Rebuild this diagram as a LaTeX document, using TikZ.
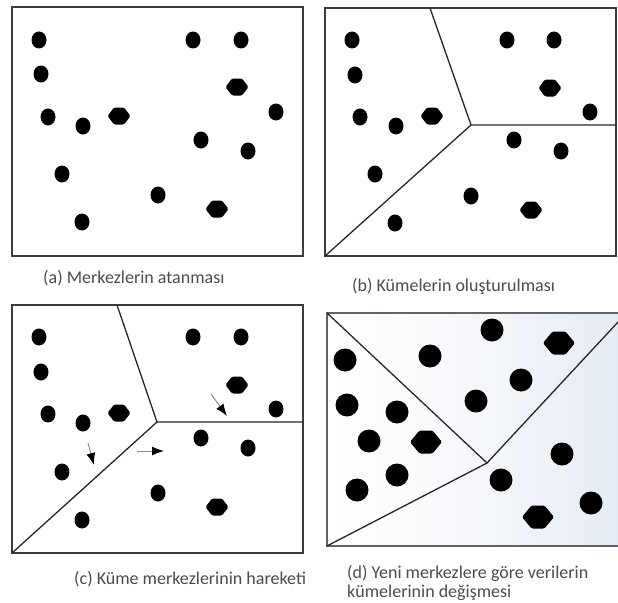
\documentclass[tikz,border=0pt]{standalone}
\usepackage{fontspec}
\setmainfont{Carlito}
\usetikzlibrary{arrows.meta}
\definecolor{framegray}{RGB}{60,60,60}
\definecolor{captiongray}{RGB}{75,75,75}
\definecolor{shadeblue}{RGB}{230,236,245}
\tikzset{
  frame/.style={draw=framegray, line width=1.6pt},
  border/.style={draw=black!85, line width=1.3pt},
  caption/.style={anchor=base west, inner sep=0pt, text=captiongray,
    font=\fontsize{18}{19}\selectfont},
  move/.style={draw=black!45, line width=1pt,
    -{Latex[length=12pt,width=9pt,color=black]}},
  dot/.pic={\fill (0,0) ellipse [x radius=7.5, y radius=8.5];},
  bigdot/.pic={\fill (0,0) circle [radius=11.5];},
  centre/.pic={\fill[rounded corners=1.5pt] (-11.5,0)--(-5,-8.5)--(5,-8.5)--(11.5,0)--(5,8.5)--(-5,8.5)--cycle;},
  bigcentre/.pic={\fill[rounded corners=1.5pt] (-16,0)--(-6.5,-11.5)--(6.5,-11.5)--(16,0)--(6.5,11.5)--(-6.5,11.5)--cycle;},
}
\begin{document}
\begin{tikzpicture}[x=1pt,y=-1pt]
\useasboundingbox (0,0) rectangle (618,602);

% ---------- (a) ----------
\draw[frame] (12,7) rectangle (303,256);
\foreach \p in {(39,40),(41,74),(48,117),(83,126),(62,174),(82,222),
                (193,40),(241,40),(276,112),(201,140),(248,151),(158,195)}
  \pic at \p {dot};
\foreach \p in {(119,116),(237,87),(217,209)}
  \pic at \p {centre};
\node[caption] (capa) at (43,283) {(a) Merkezlerin atanması};

% ---------- (b) ----------
\draw[frame] (325,8) rectangle (616,256);
\coordinate (bt) at (430,8);
\coordinate (bc) at (471,125);
\coordinate (br) at (616,125);
\coordinate (bl) at (325,256);
\draw[border] (bt) -- (bc) -- (br);
\draw[border] (bc) -- (bl);
\foreach \p in {(352,40),(355,75),(360,117),(396,126),(375,174),(395,223),
                (507,40),(554,40),(590,112),(514,140),(561,151),(471,196)}
  \pic at \p {dot};
\foreach \p in {(432,116),(550,88),(531,210)}
  \pic at \p {centre};
\node[caption] (capb) at (352,291) {(b) Kümelerin oluşturulması};

% ---------- (c) ----------
\draw[frame] (12,305) rectangle (303,553);
\coordinate (ct) at (117,305);
\coordinate (cc) at (157,422);
\coordinate (cr) at (303,422);
\coordinate (cl) at (12,553);
\draw[border] (ct) -- (cc) -- (cr);
\draw[border] (cc) -- (cl);
\foreach \p in {(39,337),(41,372),(48,414),(83,423),(62,472),(82,520),
                (193,337),(241,337),(276,409),(201,438),(248,448),(158,493)}
  \pic at \p {dot};
\foreach \p in {(119,413),(237,385),(217,507)}
  \pic at \p {centre};
\coordinate (m1s) at (88,443);
\coordinate (m1e) at (94,465);
\coordinate (m2s) at (137,451);
\coordinate (m2e) at (164,451);
\coordinate (m3s) at (211,394);
\coordinate (m3e) at (227,416);
\draw[move] (m1s) -- (m1e);
\draw[move] (m2s) -- (m2e);
\draw[move] (m3s) -- (m3e);
\node[caption] (capc) at (74,584) {(c) Küme merkezlerinin hareketi};

% ---------- (d) ----------
\shade[left color=white, right color=shadeblue, middle color=white!60!shadeblue]
  (327,313) rectangle (618,546);
\draw[frame, draw=framegray!80] (620,313) -- (327,313) -- (327,546) -- (620,546);
\coordinate (dtl) at (327,313);
\coordinate (dc) at (487,463);
\coordinate (dtr) at (619,321);
\coordinate (dbl) at (327,546);
\draw[border] (dtl) -- (dc) -- (dtr);
\draw[border] (dc) -- (dbl);
\foreach \p in {(345,360),(347,405),(397,412),(369,441),(397,475),(357,490),
                (430,356),(492,330),(521,380),(476,401),(562,454),(501,480),(591,503)}
  \pic at \p {bigdot};
\foreach \p in {(426,442),(559,343),(538,517)}
  \pic at \p {bigcentre};
\node[caption, align=left, anchor=north west] (capd) at (347,565)
  {(d) Yeni merkezlere göre verilerin\\kümelerinin değişmesi};

\end{tikzpicture}
\end{document}
